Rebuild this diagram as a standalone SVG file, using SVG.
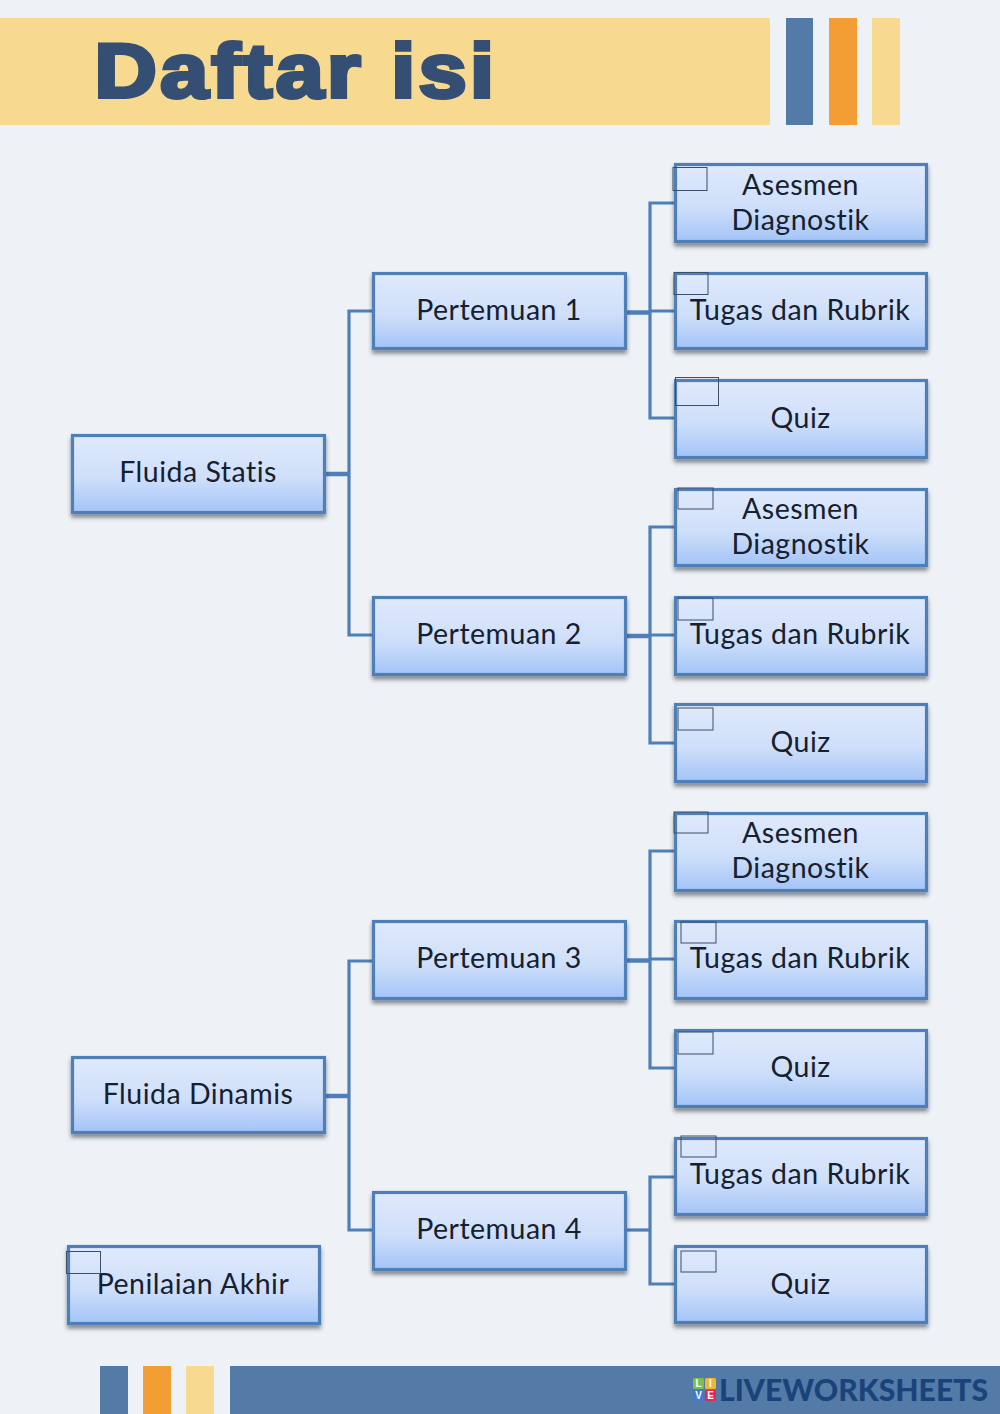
<svg xmlns="http://www.w3.org/2000/svg" width="1000" height="1414" viewBox="0 0 1000 1414">
<defs>
<linearGradient id="g" x1="0" y1="0" x2="0" y2="1"><stop offset="0" stop-color="#dfe9fb"/><stop offset="0.55" stop-color="#cfdffa"/><stop offset="1" stop-color="#a3c4f7"/></linearGradient>
<filter id="s" x="-5%" y="-10%" width="110%" height="130%"><feDropShadow dx="0" dy="3.500" stdDeviation="2" flood-color="#000" flood-opacity="0.45"/></filter>
</defs>
<style>
.box{fill:url(#g);stroke:#4f7fb8;stroke-width:3.200;filter:url(#s)}
.t{font-family:"Lato","Liberation Sans",sans-serif;font-size:28.500px;letter-spacing:.5px;font-variant-ligatures:none;fill:#16202e;text-anchor:middle}
.c{fill:none;stroke:#4f7fb8;stroke-width:3.200}
.th{fill:none;stroke:#4f7fb8;stroke-width:4.500}
.sm{fill:none;stroke:#3d4f66;stroke-width:1}
.lg{font-family:"Liberation Sans",sans-serif;font-size:10px;font-weight:700;fill:#fff;text-anchor:middle}
</style>
<rect width="1000" height="1414" fill="#eef2f7"/>
<g id="header">
<rect x="0" y="18" width="770" height="107" fill="#f8d990"/>
<rect x="786" y="18" width="27" height="107" fill="#547aa8"/>
<rect x="829" y="18" width="28" height="107" fill="#f29e35"/>
<rect x="872" y="18" width="28" height="107" fill="#f8d990"/>
<text transform="translate(94.500 96.500) scale(1.134 1)" font-family="Liberation Sans, sans-serif" font-weight="700" font-size="76" letter-spacing="3" fill="#344f73" stroke="#344f73" stroke-width="4">Daftar isi</text>
</g>
<g id="connectors">
<path class="c" d="M675 203H650V418H675M650 311H675"/><path class="th" d="M626 312.500H650"/>
<path class="c" d="M675 527H650V743H675M650 635H675"/><path class="th" d="M626 636H650"/>
<path class="c" d="M675 851H650V1068H675M650 959H675"/><path class="th" d="M626 960.500H650"/>
<path class="c" d="M675 1177H650V1284H675"/><path class="c" d="M626 1230H650"/>
<path class="c" d="M373 311H349V635H373"/><path class="th" d="M325 474H349"/>
<path class="c" d="M373 961H349V1230H373"/><path class="th" d="M325 1096H349"/>
</g>
<g id="n-fluida-statis"><rect class="box" x="72.500" y="435.500" width="252" height="77"/><text class="t" x="198" y="482">Fluida Statis</text></g>
<g id="n-fluida-dinamis"><rect class="box" x="72.500" y="1057.500" width="252" height="75"/><text class="t" x="198" y="1104">Fluida Dinamis</text></g>
<g id="n-penilaian"><rect class="box" x="68.500" y="1246.500" width="251" height="77"/><text class="t" x="193" y="1293.500">Penilaian Akhir</text><rect class="sm" x="66.500" y="1251.500" width="34" height="22"/></g>
<g id="n-p1"><rect class="box" x="373.500" y="273.500" width="252" height="75"/><text class="t" x="499" y="320">Pertemuan 1</text></g>
<g id="n-p2"><rect class="box" x="373.500" y="597.500" width="252" height="77"/><text class="t" x="499" y="644">Pertemuan 2</text></g>
<g id="n-p3"><rect class="box" x="373.500" y="921.500" width="252" height="77"/><text class="t" x="499" y="968">Pertemuan 3</text></g>
<g id="n-p4"><rect class="box" x="373.500" y="1192.500" width="252" height="77"/><text class="t" x="499" y="1239">Pertemuan 4</text></g>
<g id="n-a1"><rect class="box" x="675.500" y="164.500" width="251" height="77"/><text class="t" x="800.500" y="194.500">Asesmen</text><text class="t" x="800.500" y="229.500">Diagnostik</text><rect class="sm" x="673" y="167.500" width="34" height="23"/></g>
<g id="n-t1"><rect class="box" x="675.500" y="273.500" width="251" height="75"/><text class="t" x="800" y="320">Tugas dan Rubrik</text><rect class="sm" x="674" y="272.500" width="34" height="22"/></g>
<g id="n-q1"><rect class="box" x="675.500" y="380.500" width="251" height="77"/><text class="t" x="800.500" y="428">Quiz</text><rect class="sm" x="675.500" y="377.500" width="43" height="28"/></g>
<g id="n-a2"><rect class="box" x="675.500" y="489.500" width="251" height="76"/><text class="t" x="800.500" y="518.500">Asesmen</text><text class="t" x="800.500" y="553.500">Diagnostik</text><rect class="sm" x="678" y="488" width="35" height="21"/></g>
<g id="n-t2"><rect class="box" x="675.500" y="597.500" width="251" height="77"/><text class="t" x="800" y="644">Tugas dan Rubrik</text><rect class="sm" x="678" y="598" width="35" height="22"/></g>
<g id="n-q2"><rect class="box" x="675.500" y="704.500" width="251" height="77"/><text class="t" x="800.500" y="752">Quiz</text><rect class="sm" x="678" y="708" width="35" height="22"/></g>
<g id="n-a3"><rect class="box" x="675.500" y="813.500" width="251" height="77"/><text class="t" x="800.500" y="842.500">Asesmen</text><text class="t" x="800.500" y="877.500">Diagnostik</text><rect class="sm" x="674" y="812" width="34" height="21"/></g>
<g id="n-t3"><rect class="box" x="675.500" y="921.500" width="251" height="77"/><text class="t" x="800" y="968">Tugas dan Rubrik</text><rect class="sm" x="681" y="922" width="35" height="21"/></g>
<g id="n-q3"><rect class="box" x="675.500" y="1030.500" width="251" height="76"/><text class="t" x="800.500" y="1077">Quiz</text><rect class="sm" x="678" y="1032" width="35" height="22"/></g>
<g id="n-t4"><rect class="box" x="675.500" y="1138.500" width="251" height="76"/><text class="t" x="800" y="1184">Tugas dan Rubrik</text><rect class="sm" x="681" y="1136" width="35" height="21"/></g>
<g id="n-q4"><rect class="box" x="675.500" y="1246.500" width="251" height="76"/><text class="t" x="800.500" y="1294">Quiz</text><rect class="sm" x="681" y="1251" width="35" height="21"/></g>
<g id="footer">
<rect x="100" y="1366" width="28" height="48" fill="#547aa8"/>
<rect x="143" y="1366" width="28" height="48" fill="#f29e35"/>
<rect x="186" y="1366" width="28" height="48" fill="#f8d990"/>
<rect x="230" y="1366" width="770" height="48" fill="#547aa8"/>
<rect x="693" y="1378" width="11" height="11" rx="1.500" fill="#7cc04b"/><text class="lg" x="698.500" y="1387">L</text>
<rect x="705" y="1378" width="11" height="11" rx="1.500" fill="#f2b632"/><text class="lg" x="710.500" y="1387">I</text>
<rect x="693" y="1390" width="11" height="11" rx="1.500" fill="#3f78d6"/><text class="lg" x="698.500" y="1399">V</text>
<rect x="705" y="1390" width="11" height="11" rx="1.500" fill="#d92b55"/><text class="lg" x="710.500" y="1399">E</text>
<text x="719" y="1401" font-family="Lato, Liberation Sans, sans-serif" font-weight="900" font-size="31" fill="#1a4479" textLength="269" lengthAdjust="spacingAndGlyphs">LIVEWORKSHEETS</text>
</g>
</svg>
